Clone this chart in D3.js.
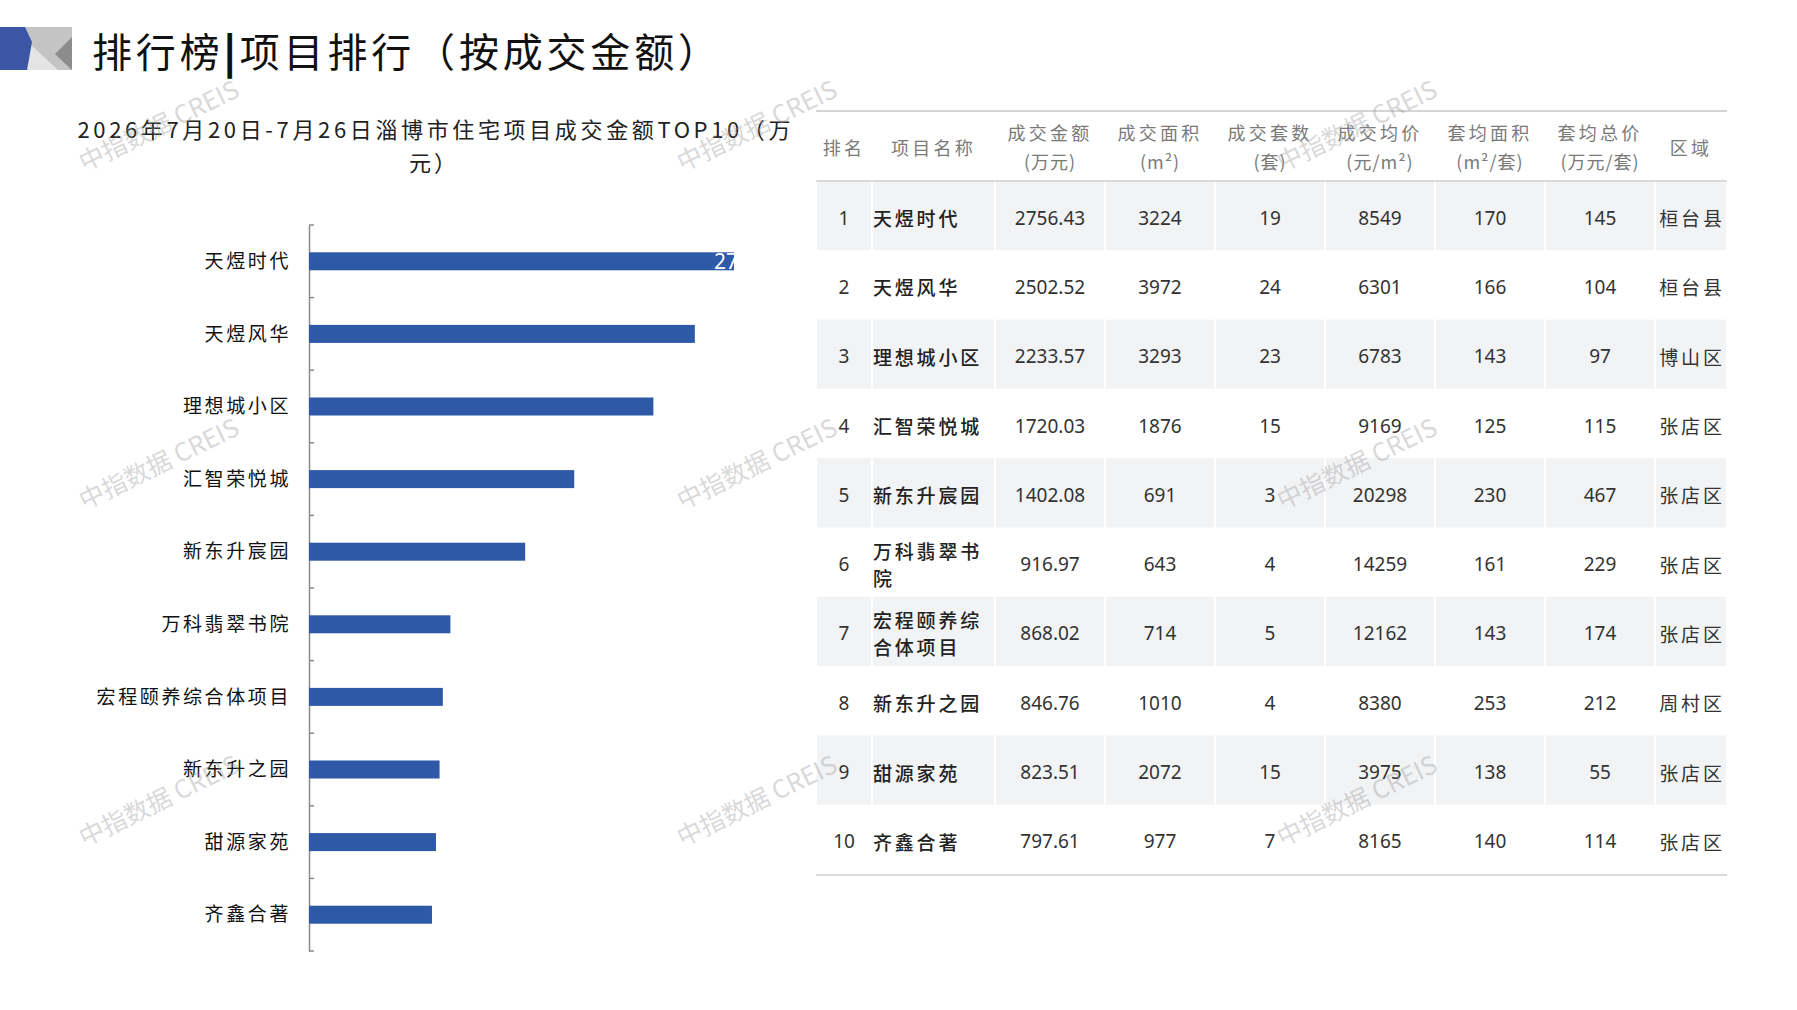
<!DOCTYPE html>
<html><head><meta charset="utf-8">
<script src="https://cdn.jsdelivr.net/npm/d3@7/dist/d3.min.js"></script>
<style>body{margin:0;background:#fff;} svg{display:block;}</style>
</head><body>
<svg id="c" width="1797" height="1010"></svg>
<script>
// ---------- data ----------
const ranks     = [1,2,3,4,5,6,7,8,9,10];
const projects  = ["天煜时代","天煜风华","理想城小区","汇智荣悦城","新东升宸园","万科翡翠书院","宏程颐养综合体项目","新东升之园","甜源家苑","齐鑫合著"];
const amount    = [2756.43,2502.52,2233.57,1720.03,1402.08,916.97,868.02,846.76,823.51,797.61];
const area      = [3224,3972,3293,1876,691,643,714,1010,2072,977];
const units     = [19,24,23,15,3,4,5,4,15,7];
const avgPrice  = [8549,6301,6783,9169,20298,14259,12162,8380,3975,8165];
const avgArea   = [170,166,143,125,230,161,143,253,138,140];
const avgTotal  = [145,104,97,115,467,229,174,212,55,114];
const regions   = ["桓台县","桓台县","博山区","张店区","张店区","张店区","张店区","周村区","张店区","张店区"];
const headers   = [["排名"],["项目名称"],["成交金额","(万元)"],["成交面积","(m²)"],["成交套数","(套)"],["成交均价","(元/m²)"],["套均面积","(m²/套)"],["套均总价","(万元/套)"],["区域"]];
const pageTitle = ["排行榜","|","项目排行（按成交金额）"];
const chartTitle = ["2026年7月20日-7月26日淄博市住宅项目成交金额TOP10（万","元）"];
const watermark = "中指数据 CREIS";

// ---------- setup ----------
const svg = d3.select("#c");
const CJK = "'Noto Sans CJK SC','Noto Sans',sans-serif";

// logo
const logo = svg.append("g");
logo.append("rect").attr("x",20).attr("y",27).attr("width",52).attr("height",43).attr("fill","#C4C4C4");
logo.append("polygon").attr("points","30,44 58,70 24,70").attr("fill","#E4E4E4");
logo.append("polygon").attr("points","72,37 72,70 55,54").attr("fill","#8C8C8C");
logo.append("polygon").attr("points","0,27 25,27 32,42 27,70 0,70").attr("fill","#3A56A5");

// page title
const pt = svg.append("text").attr("x",92).attr("y",50).attr("dominant-baseline","central")
  .attr("font-family",CJK).attr("font-size",40).attr("fill","#111")
  .attr("textLength",626).attr("lengthAdjust","spacing");
pt.append("tspan").text(pageTitle[0]);
pt.append("tspan").attr("font-weight",900).text(pageTitle[1]);
pt.append("tspan").text(pageTitle[2]);

// chart title
chartTitle.forEach((t,i)=>{
  const el = svg.append("text").attr("x",434).attr("y",i===0?128:161)
    .attr("text-anchor","middle").attr("dominant-baseline","central")
    .attr("font-family",CJK).attr("font-size",22).attr("fill","#222").text(t);
  if(i===0) el.attr("textLength",713).attr("lengthAdjust","spacing");
  else el.attr("letter-spacing",3);
});

// ---------- bar chart ----------
const axisX = 309;
const x = d3.scaleLinear().domain([0, d3.max(amount)]).range([axisX, 734]);
const y = d3.scaleBand().domain(projects).range([225, 951]).paddingInner(0.752).paddingOuter(0.376);

const yAxis = svg.append("g").attr("transform",`translate(${axisX},0)`)
  .call(d3.axisLeft(y).tickSize(0).tickSizeOuter(0).tickPadding(18));
yAxis.select(".domain").attr("stroke","#8A8A8A").attr("stroke-width",1.5);
yAxis.selectAll(".tick text").attr("font-family",CJK).attr("font-size",19)
  .attr("letter-spacing",2.6).attr("fill","#111").attr("dy","0.35em");

// boundary ticks
const bounds = d3.range(projects.length+1).map(i => y.range()[0] + i*y.step());
svg.append("g").selectAll("line").data(bounds).join("line")
  .attr("x1",axisX).attr("x2",axisX+5).attr("y1",d=>d).attr("y2",d=>d)
  .attr("stroke","#8A8A8A").attr("stroke-width",1.5);

svg.append("g").selectAll("rect").data(projects).join("rect")
  .attr("x",axisX).attr("y",d=>y(d)).attr("height",y.bandwidth())
  .attr("width",(d,i)=>x(amount[i])-axisX).attr("fill","#2E59A7");

// clipped value label of the top bar
svg.append("clipPath").attr("id","plotclip").append("rect")
  .attr("x",axisX).attr("y",200).attr("width",x.range()[1]-axisX).attr("height",780);
const maxI = amount.indexOf(d3.max(amount));
svg.append("text").attr("clip-path","url(#plotclip)")
  .attr("x",x(amount[maxI])-20).attr("y",y(projects[maxI])+y.bandwidth()/2)
  .attr("dominant-baseline","central").attr("font-family","'Noto Sans',sans-serif")
  .attr("font-size",21).attr("fill","#fff").text(amount[maxI].toFixed(2));

// ---------- table ----------
const colEdges = [816, 872, 995, 1105, 1215, 1325, 1435, 1545, 1655, 1727];
const colMid = i => (colEdges[i]+colEdges[i+1])/2;
const rowY = d3.scaleBand().domain(ranks).range([181, 874]);
const tbl = svg.append("g");

// row backgrounds (odd rows)
ranks.forEach((r,ri)=>{
  if(ri%2===0){
    for(let c=0;c<9;c++){
      tbl.append("rect").attr("x",colEdges[c]+1).attr("y",rowY(r))
        .attr("width",colEdges[c+1]-colEdges[c]-2).attr("height",rowY.bandwidth())
        .attr("fill","#F2F3F5");
    }
  }
});
// lines
tbl.append("line").attr("x1",816).attr("x2",1727).attr("y1",111).attr("y2",111).attr("stroke","#D4D4D4").attr("stroke-width",2);
tbl.append("line").attr("x1",816).attr("x2",1727).attr("y1",181).attr("y2",181).attr("stroke","#CFCFCF").attr("stroke-width",1.5);
tbl.append("line").attr("x1",816).attr("x2",1727).attr("y1",875).attr("y2",875).attr("stroke","#CFCFCF").attr("stroke-width",1.5);

// headers
headers.forEach((h,c)=>{
  h.forEach((line,li)=>{
    const yy = h.length===1 ? 147 : (li===0?132:161);
    tbl.append("text").attr("x",colMid(c)).attr("y",yy)
      .attr("text-anchor","middle").attr("dominant-baseline","central")
      .attr("font-family",CJK).attr("font-size",18).attr("letter-spacing",/[()]/.test(line)?1:3.2)
      .attr("fill","#7A7A7A").text(line);
  });
});

// body
const numCols = [amount.map(v=>v.toFixed(2)), area, units, avgPrice, avgArea, avgTotal];
ranks.forEach((r,ri)=>{
  const cy = rowY(r) + rowY.bandwidth()/2 + 2;
  const num = (txt,c)=> tbl.append("text").attr("x",colMid(c)).attr("y",cy)
      .attr("text-anchor","middle").attr("dominant-baseline","central")
      .attr("font-family","'Noto Sans',sans-serif").attr("font-size",19).attr("fill","#333").text(txt);
  num(r,0);
  // name, wrapped at 5 chars
  const name = projects[ri];
  const lines = [];
  for(let k=0;k<name.length;k+=5) lines.push(name.slice(k,k+5));
  lines.forEach((ln,li)=>{
    tbl.append("text").attr("x",873).attr("y",cy + (li-(lines.length-1)/2)*27)
      .attr("dominant-baseline","central").attr("font-family",CJK).attr("font-weight",500)
      .attr("font-size",19).attr("letter-spacing",2.8).attr("fill","#222").text(ln);
  });
  numCols.forEach((arr,k)=> num(arr[ri], k+2));
  tbl.append("text").attr("x",colMid(8)+1).attr("y",cy)
    .attr("text-anchor","middle").attr("dominant-baseline","central")
    .attr("font-family",CJK).attr("font-size",19).attr("letter-spacing",2.8)
    .attr("fill","#333").text(regions[ri]);
});

// ---------- watermarks ----------
const wmX = [158, 756, 1356], wmY = [124, 462, 799];
const wm = svg.append("g");
wmY.forEach(yy=>wmX.forEach(xx=>{
  wm.append("text").attr("transform",`translate(${xx},${yy}) rotate(-26)`)
    .attr("text-anchor","middle").attr("dominant-baseline","central")
    .attr("font-family",CJK).attr("font-size",25).attr("fill","#9A9A9A").attr("fill-opacity",0.4)
    .text(watermark);
}));
</script>
</body></html>
